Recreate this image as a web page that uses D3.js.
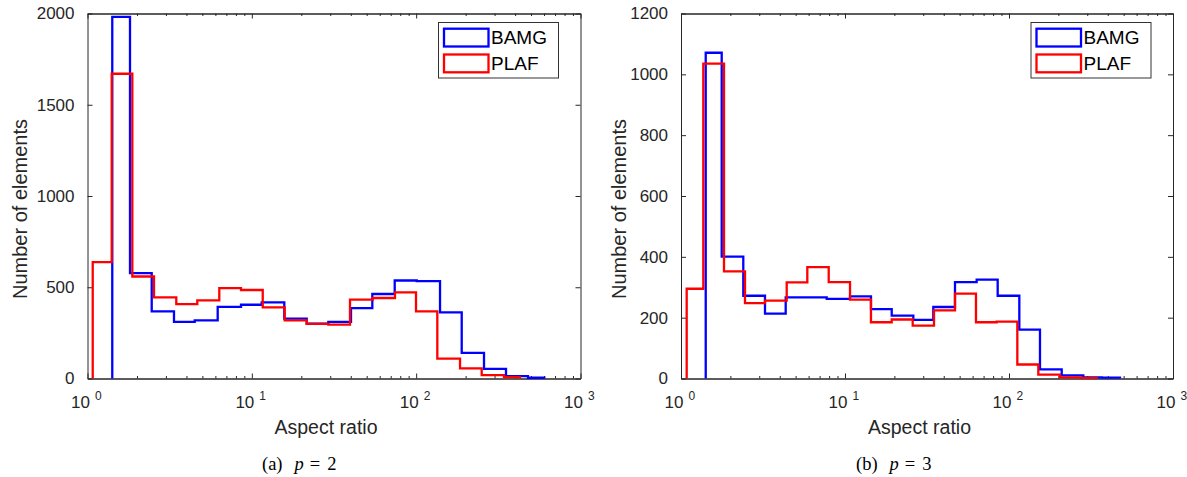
<!DOCTYPE html>
<html>
<head>
<meta charset="utf-8">
<script src="https://cdn.jsdelivr.net/npm/d3@7"></script>
<style>
  body { margin: 0; background: #fff; }
  svg text { font-family: "Liberation Sans", Arial, sans-serif; }
</style>
</head>
<body>
<svg id="chart" width="1187" height="477"></svg>
<script>
// bin edges (aspect ratio) and element counts
const bamgEdgesP2 = [1.415, 1.814, 2.459, 3.36, 4.491, 6.198, 8.592, 11.48, 15.76, 21.58, 29.2, 40.13, 54.1, 74.03, 100.8, 139.7, 189.3, 258.7, 352.1, 479.1, 602.3]
const bamgCountsP2 = [1982, 577, 368, 310, 319, 392, 404, 417, 328, 300, 310, 386, 463, 537, 534, 362, 140, 53, 13, 4]
const plafEdgesP2 = [1.076, 1.404, 1.874, 2.539, 3.47, 4.658, 6.339, 8.592, 11.65, 15.85, 21.58, 29.2, 39.57, 54.4, 74.34, 99.77, 134.5, 184.9, 250.5, 342.3, 428.5]
const plafCountsP2 = [638, 1670, 559, 444, 408, 428, 495, 485, 390, 319, 299, 295, 432, 441, 472, 368, 109, 56, 18, 7]

const bamgEdgesP3 = [1.415, 1.771, 2.398, 3.252, 4.349, 5.842, 7.734, 10.73, 14.4, 19.27, 26.1, 34.55, 46.85, 63.5, 85.3, 115.6, 154.5, 209.6, 283.8, 369, 475]
const bamgCountsP3 = [1071, 401, 272, 213, 267, 267, 262, 270, 228, 207, 193, 235, 317, 325, 272, 161, 30, 10, 4, 3]
const plafEdgesP3 = [1.083, 1.368, 1.829, 2.456, 3.252, 4.411, 5.891, 7.955, 10.73, 14.4, 19.27, 25.87, 34.89, 46.85, 62.9, 84.1, 112.4, 150.9, 204.6, 274.8, 342.5]
const plafCountsP3 = [295, 1035, 352, 248, 256, 316, 366, 317, 259, 185, 194, 174, 224, 279, 185, 187, 46, 13, 4, 2]

const seriesNames = ["BAMG", "PLAF"]
const seriesColors = ["#0000ff", "#ff0000"]

const xDomain = [1, 1000]
const xMajorTicks = [1, 10, 100, 1000]
const xTickExponents = ["0", "1", "2", "3"]
const yTicksP2 = [0, 500, 1000, 1500, 2000]
const yTicksP3 = [0, 200, 400, 600, 800, 1000, 1200]

const xLabel = "Aspect ratio"
const yLabel = "Number of elements"

const axisColor = "#262626"
const svg = d3.select("#chart")

// minor ticks of a log axis: 2..9 in each decade
function minorTicks(domain) {
  var out = []
  for (var d = domain[0]; d < domain[1]; d *= 10) {
    for (var m = 2; m <= 9; m++) out.push(m * d)
  }
  return out
}

// outline of a histogram drawn as stairs, closed to zero at both ends
function stairPoints(edges, counts) {
  var pts = [[edges[0], 0]]
  counts.forEach(function (c, i) {
    pts.push([edges[i], c])
  })
  pts.push([edges[edges.length - 1], 0])
  return pts
}

function drawPanel(p) {
  var g = svg.append("g")
  var x = d3.scaleLog().domain(xDomain).range([p.left, p.right])
  var y = d3.scaleLinear().domain([0, p.yTicks[p.yTicks.length - 1]]).range([p.bottom, p.top])
  var minors = minorTicks(xDomain)

  // axes box with inward ticks (bottom, top, right)
  var axes = [
    [d3.axisBottom(x).tickValues(xMajorTicks).tickSizeInner(-5), "translate(0," + p.bottom + ")"],
    [d3.axisBottom(x).tickValues(minors).tickSizeInner(-2.5), "translate(0," + p.bottom + ")"],
    [d3.axisTop(x).tickValues(xMajorTicks).tickSizeInner(-5), "translate(0," + p.top + ")"],
    [d3.axisTop(x).tickValues(minors).tickSizeInner(-2.5), "translate(0," + p.top + ")"],
    [d3.axisRight(y).tickValues(p.yTicks).tickSizeInner(-5), "translate(" + p.right + ",0)"]
  ]
  axes.forEach(function (a) {
    g.append("g")
      .attr("transform", a[1])
      .attr("color", axisColor)
      .call(a[0].tickSizeOuter(0).tickFormat(""))
  })

  var yAxis = g.append("g")
    .attr("transform", "translate(" + p.left + ",0)")
    .attr("color", axisColor)
    .call(d3.axisLeft(y).tickValues(p.yTicks).tickSizeInner(-5).tickSizeOuter(0)
      .tickPadding(13).tickFormat(d3.format("d")))
  yAxis.selectAll("text")
    .attr("font-size", 17)
    .attr("fill", axisColor)

  // x tick labels as 10^n
  var xl = g.selectAll(".xtl").data(xMajorTicks).join("g").attr("class", "xtl")
  xl.append("text")
    .attr("x", function (d) { return x(d) + 2.5 })
    .attr("y", 408)
    .attr("text-anchor", "end")
    .attr("font-size", 17)
    .attr("fill", axisColor)
    .text("10")
  xl.append("text")
    .attr("x", function (d) { return x(d) + 7.5 })
    .attr("y", 399.5)
    .attr("font-size", 12)
    .attr("fill", axisColor)
    .text(function (d, i) { return xTickExponents[i] })

  // histograms
  var line = d3.line()
    .x(function (d) { return x(d[0]) })
    .y(function (d) { return y(d[1]) })
    .curve(d3.curveStepAfter)
  p.series.forEach(function (s, i) {
    g.append("path")
      .attr("d", line(stairPoints(s.edges, s.counts)))
      .attr("fill", "none")
      .attr("stroke", seriesColors[i])
      .attr("stroke-width", 2.3)
      .attr("stroke-linejoin", "miter")
  })

  // labels
  g.append("text")
    .attr("x", p.xLabelX)
    .attr("y", 434)
    .attr("text-anchor", "middle")
    .attr("font-size", 19.5)
    .attr("fill", axisColor)
    .text(xLabel)
  g.append("text")
    .attr("transform", "translate(" + p.yLabelX + ",209) rotate(-90)")
    .attr("text-anchor", "middle")
    .attr("font-size", 20)
    .attr("fill", axisColor)
    .text(yLabel)

  // caption (serif, p in italics)
  var cap = g.append("text")
    .attr("x", p.captionX)
    .attr("y", 470)
    .style("font-family", "'Liberation Serif', 'Times New Roman', serif")
    .attr("font-size", 18.5)
    .attr("fill", "#000")
  cap.append("tspan").text(p.caption)
  cap.append("tspan").attr("dx", 12).attr("font-style", "italic").text("p")
  cap.append("tspan").attr("dx", 6).text("=")
  cap.append("tspan").attr("dx", 7).text(p.pValue)

  // legend
  var lg = g.append("g").attr("transform", "translate(" + (p.right - 142) + "," + (p.top + 9) + ")")
  lg.append("rect")
    .attr("width", 120)
    .attr("height", 55.5)
    .attr("fill", "#fff")
    .attr("stroke", "#333")
    .attr("stroke-width", 1)
  var items = lg.selectAll(".li").data(seriesNames).join("g").attr("class", "li")
    .attr("transform", function (d, i) { return "translate(0," + i * 25.8 + ")" })
  items.append("rect")
    .attr("x", 5.5)
    .attr("y", 6.2)
    .attr("width", 44.5)
    .attr("height", 17.8)
    .attr("fill", "none")
    .attr("stroke", function (d, i) { return seriesColors[i] })
    .attr("stroke-width", 2.3)
  items.append("text")
    .attr("x", 52.5)
    .attr("y", 21.5)
    .attr("font-size", 19)
    .attr("fill", "#000")
    .text(function (d) { return d })
}

drawPanel({
  left: 87.5, right: 580.5, top: 13.5, bottom: 378.5,
  yTicks: yTicksP2,
  series: [
    { edges: bamgEdgesP2, counts: bamgCountsP2 },
    { edges: plafEdgesP2, counts: plafCountsP2 }
  ],
  xLabelX: 326, yLabelX: 26.7, captionX: 262,
  caption: "(a)", pValue: "2"
})

drawPanel({
  left: 681, right: 1173, top: 13.5, bottom: 378.5,
  yTicks: yTicksP3,
  series: [
    { edges: bamgEdgesP3, counts: bamgCountsP3 },
    { edges: plafEdgesP3, counts: plafCountsP3 }
  ],
  xLabelX: 919.5, yLabelX: 625.5, captionX: 856,
  caption: "(b)", pValue: "3"
})
</script>
</body>
</html>
